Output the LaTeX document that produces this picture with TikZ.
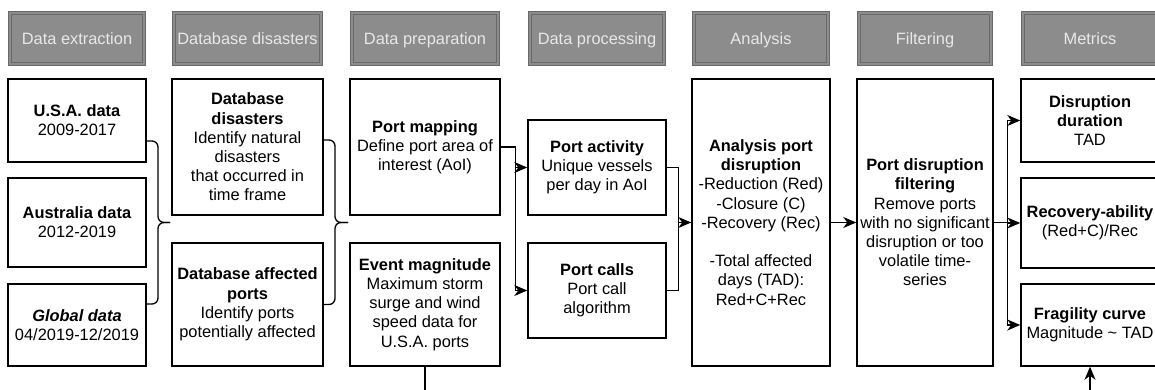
\documentclass[tikz,border=0pt]{standalone}
\usepackage{fontspec}
\setmainfont{Liberation Sans}
\usetikzlibrary{arrows.meta,positioning,calc}
\definecolor{hdrfill}{RGB}{140,140,140}
\definecolor{hdrline}{RGB}{105,105,105}
\definecolor{hdrtext}{RGB}{232,232,232}
\tikzset{
  hdr/.style={draw=hdrline, line width=0.9pt, double=hdrfill, double distance=2.4pt, fill=hdrfill, text=hdrtext, minimum height=51pt, inner sep=0pt, text height=12pt, text depth=0.3pt, font=\fontsize{16.4}{19.2}\selectfont},
  block/.style={draw=black, line width=1.5pt, fill=white, align=center, inner sep=2pt, font=\fontsize{16.4}{19.2}\selectfont},
  link/.style={line width=1.3pt, black},
  flow/.style={link, -{Stealth[length=13pt,width=11pt,inset=4pt]}},
}

\begin{document}
\begin{tikzpicture}[x=1pt,y=1pt]
  \useasboundingbox (0,0) rectangle (1155,390);
  \clip (0,0) rectangle (1155,390);
  % column headers
  \foreach \cx/\w/\txt/\nm in {77/134/Data extraction/h1, 247.5/147/Database disasters/h2, 425/146/Data preparation/h3, 597/134/Data processing/h4, 761/134/Analysis/h5, 925/132/Filtering/h6, 1090/134/Metrics/h7}{
    \node[hdr, minimum width=\w] (\nm) at (\cx,351.5) {\txt};
  }
  % data extraction
  \node[block, minimum width=138, minimum height=83] (usa) at (77,269.5) {\textbf{U.S.A. data}\\2009-2017};
  \node[block, minimum width=138, minimum height=89] (aus) at (77,167.5) {\textbf{Australia data}\\2012-2019};
  \node[block, minimum width=138, minimum height=82] (glob) at (77,65) {\textbf{\textit{Global data}}\\04/2019-12/2019};
  % database disasters
  \node[block, minimum width=151, minimum height=136] (dbdis) at (247.5,243) {\textbf{Database}\\\textbf{disasters}\\Identify natural\\disasters\\that occurred in\\time frame};
  \node[block, minimum width=151, minimum height=123] (dbport) at (247.5,85.5) {\textbf{Database affected}\\\textbf{ports}\\Identify ports\\potentially affected};
  % data preparation
  \node[block, minimum width=150, minimum height=136] (pmap) at (425,243) {\textbf{Port mapping}\\Define port area of\\interest (AoI)};
  \node[block, minimum width=150, minimum height=123] (evmag) at (425,85.5) {\textbf{Event magnitude}\\Maximum storm\\surge and wind\\speed data for\\U.S.A. ports};
  % data processing
  \node[block, minimum width=138, minimum height=95] (pact) at (597,222.5) {\textbf{Port activity}\\Unique vessels\\per day in AoI};
  \node[block, minimum width=138, minimum height=95] (pcall) at (597,99.5) {\textbf{Port calls}\\Port call\\algorithm};
  % analysis and filtering
  \node[block, minimum width=138, minimum height=287] (anal) at (761,167.5) {\textbf{Analysis port}\\\textbf{disruption}\\-Reduction (Red)\\-Closure (C)\\-Recovery (Rec)\\[19.2pt]-Total affected\\days (TAD):\\Red+C+Rec};
  \node[block, minimum width=136, minimum height=287] (filt) at (925,167.5) {\textbf{Port disruption}\\\textbf{filtering}\\Remove ports\\with no significant\\disruption or too\\volatile time-\\series};
  % metrics
  \node[block, minimum width=138, minimum height=83] (dur) at (1090,269.5) {\textbf{Disruption}\\\textbf{duration}\\TAD};
  \node[block, minimum width=138, minimum height=90] (rec) at (1090,167) {\textbf{Recovery-ability}\\(Red+C)/Rec};
  \node[block, minimum width=138, minimum height=82] (frag) at (1090,65) {\textbf{Fragility curve}\\Magnitude \textasciitilde{} TAD};

  % braces
  \coordinate (tip1) at (158,167.5);
  \coordinate (tip2) at (335,167.5);
  \draw[link, rounded corners=6] ([yshift=-20.5]usa.east) -| (tip1) -- ++(12,0);
  \draw[link, rounded corners=6] ([yshift=21]glob.east) -| (tip1) -- ++(12,0);
  \draw[link, rounded corners=6] ([yshift=7]dbdis.east) -| (tip2) -- ++(13,0);
  \draw[link, rounded corners=6] (dbport.east) -| (tip2) -- ++(13,0);

  % flow arrows
  \draw[flow] (pmap.east) -- ++(15,0) |- (pact.west);
  \draw[flow] (pmap.east) -- ++(15,0) |- (pcall.west);
  \draw[link] (pcall.east) -- ++(12,0) |- (anal.west);
  \draw[flow] (pact.east) -- ++(12,0) |- (anal.west);
  \draw[flow] (anal.west -| anal.east) -- (filt.west);
  \draw[flow] (filt.east) -- ++(14,0) |- (dur.west);
  \draw[flow] (filt.east) -- ++(14,0) |- (rec.west);
  \draw[flow] (filt.east) -- ++(14,0) |- (frag.west);
  \draw[flow] (evmag.south) -- ++(0,-60) -| (frag.south);
\end{tikzpicture}
\end{document}
